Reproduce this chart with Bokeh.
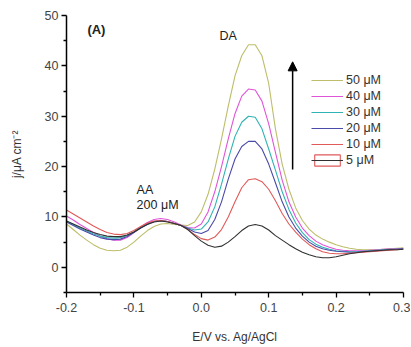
from bokeh.plotting import figure
from bokeh.models import (FixedTicker, PrintfTickFormatter, Legend, LegendItem,
                          Arrow, NormalHead, ColumnDataSource)
from bokeh.core.properties import value
from bokeh.embed import file_html
from bokeh.resources import INLINE

# Potential (V vs. Ag/AgCl)
E = [-0.20, -0.19, -0.18, -0.17, -0.16, -0.15, -0.14, -0.13, -0.12, -0.11,
     -0.10, -0.09, -0.08, -0.07, -0.06, -0.05, -0.04, -0.03, -0.02, -0.01,
     0.00, 0.01, 0.02, 0.03, 0.04, 0.05, 0.06, 0.07, 0.08, 0.09,
     0.10, 0.11, 0.12, 0.13, 0.14, 0.15, 0.16, 0.17, 0.18, 0.19,
     0.20, 0.21, 0.22, 0.23, 0.24, 0.25, 0.26, 0.27, 0.28, 0.29, 0.30]

j_5 = [9.2, 8.6, 8.0, 7.4, 6.9, 6.5, 6.2, 6.1, 6.1, 6.4,
       7.0, 7.8, 8.5, 9.0, 9.2, 9.0, 8.7, 8.3, 7.5, 6.3,
       5.2, 4.4, 4.0, 4.2, 5.0, 6.1, 7.3, 8.2, 8.5, 8.2,
       7.4, 6.3, 5.4, 4.5, 3.7, 3.0, 2.5, 2.1, 1.9, 1.9,
       2.1, 2.4, 2.7, 2.9, 3.1, 3.2, 3.3, 3.4, 3.5, 3.5, 3.6]
j_10 = [11.4, 10.6, 9.8, 9.0, 8.2, 7.5, 6.9, 6.6, 6.5, 6.7,
        7.3, 8.1, 8.8, 9.2, 9.3, 9.1, 8.7, 8.3, 7.5, 6.5,
        5.7, 5.4, 6.0, 7.5, 10.0, 13.0, 15.8, 17.4, 17.6, 17.0,
        15.5, 13.2, 10.7, 8.6, 7.0, 5.6, 4.5, 3.7, 3.1, 2.8,
        2.7, 2.7, 2.8, 2.9, 3.0, 3.1, 3.2, 3.3, 3.4, 3.5, 3.6]
j_20 = [9.0, 8.3, 7.6, 7.0, 6.4, 5.9, 5.6, 5.5, 5.6, 6.1,
        6.9, 7.8, 8.6, 9.1, 9.3, 9.1, 8.7, 8.3, 7.7, 7.0,
        6.7, 7.3, 9.5, 13.0, 17.5, 21.5, 24.0, 25.0, 25.0, 23.5,
        20.5, 16.8, 13.0, 10.0, 7.8, 6.2, 5.0, 4.2, 3.7, 3.4,
        3.2, 3.1, 3.0, 3.0, 3.1, 3.2, 3.3, 3.4, 3.5, 3.6, 3.7]
j_30 = [9.2, 8.5, 7.8, 7.2, 6.6, 6.2, 5.9, 5.8, 5.9, 6.3,
        7.0, 7.9, 8.6, 9.1, 9.3, 9.1, 8.7, 8.3, 7.8, 7.4,
        7.6, 9.0, 12.0, 16.5, 21.5, 26.0, 28.8, 30.0, 29.8, 27.5,
        23.5, 19.3, 15.0, 11.5, 8.8, 6.9, 5.5, 4.6, 4.0, 3.6,
        3.3, 3.2, 3.1, 3.1, 3.2, 3.3, 3.4, 3.5, 3.6, 3.6, 3.7]
j_40 = [10.2, 9.4, 8.5, 7.7, 6.9, 6.2, 5.7, 5.4, 5.4, 5.9,
        6.9, 8.0, 8.9, 9.5, 9.7, 9.5, 9.0, 8.4, 7.9, 7.8,
        8.6, 11.0, 15.0, 20.0, 25.5, 30.5, 34.0, 35.4, 35.2, 33.0,
        28.5, 22.8, 17.3, 13.0, 10.0, 7.8, 6.3, 5.2, 4.5, 4.0,
        3.6, 3.4, 3.3, 3.3, 3.3, 3.4, 3.5, 3.6, 3.7, 3.7, 3.8]
j_50 = [8.6, 7.5, 6.4, 5.4, 4.5, 3.8, 3.4, 3.3, 3.4, 4.0,
        5.0, 6.2, 7.3, 8.1, 8.6, 8.7, 8.5, 8.4, 8.3, 9.0,
        11.0, 14.5, 19.5, 25.5, 32.0, 38.0, 42.0, 44.2, 44.2, 42.0,
        36.5, 27.5, 20.5, 15.5, 11.8, 9.3, 7.6, 6.4, 5.6, 5.0,
        4.5, 4.1, 3.8, 3.6, 3.5, 3.5, 3.5, 3.6, 3.7, 3.8, 3.9]

labels = ["50 \u03bcM", "40 \u03bcM", "30 \u03bcM", "20 \u03bcM", "10 \u03bcM", "5 \u03bcM"]
series = [j_50, j_40, j_30, j_20, j_10, j_5]
colors = ["#bdbd6a", "#e055d8", "#2fb3b3", "#4a4aa8", "#e05a5a", "#303030"]

x_ticks = [-0.2, -0.1, 0.0, 0.1, 0.2, 0.3]
x_minor = [-0.15, -0.05, 0.05, 0.15, 0.25]
y_ticks = [0, 10, 20, 30, 40, 50]
y_minor = [-5, 5, 15, 25, 35, 45]

FONT = "Liberation Sans"
TXT = "#333333"

p = figure(width=410, height=346, output_backend="svg", toolbar_location=None,
           x_range=(-0.2, 0.3), y_range=(-5, 50),
           min_border_left=66, min_border_right=7, min_border_top=15, min_border_bottom=51)
p.outline_line_color = None
p.grid.visible = False
p.background_fill_color = "white"
p.border_fill_color = "white"

renderers = []
for ys, c in zip(series, colors):
    r = p.line(E, ys, line_color=c, line_width=1.1)
    renderers.append(r)

# legend box glyph for the 5 uM entry (placed outside the visible range)
box_src = ColumnDataSource(dict(x=[1.0], y=[100.0]))
box = p.rect(x="x", y="y", width=0.01, height=1, source=box_src,
             fill_alpha=0, line_color="#e05a5a", line_width=1.1)

items = []
for lab, r in zip(labels, renderers):
    if lab.startswith("5 "):
        items.append(LegendItem(label=lab, renderers=[box, r]))
    else:
        items.append(LegendItem(label=lab, renderers=[r]))
legend = Legend(items=items, location=(245, 125), glyph_width=32, glyph_height=14,
                label_standoff=3, spacing=2, padding=0, margin=0,
                border_line_color=None, background_fill_alpha=0,
                label_text_font=FONT, label_text_font_size="12.5px",
                label_text_color=TXT, label_height=14)
p.add_layout(legend)

# axes
for ax in (p.xaxis[0], p.yaxis[0]):
    ax.axis_line_color = "black"
    ax.axis_line_width = 1.5
    ax.major_tick_line_color = "black"
    ax.minor_tick_line_color = "black"
    ax.major_tick_line_width = 1.3
    ax.minor_tick_line_width = 1.3
    ax.major_tick_out = 5
    ax.major_tick_in = 0
    ax.minor_tick_out = 3
    ax.minor_tick_in = 0
    ax.major_label_text_font = FONT
    ax.major_label_text_font_size = "12.5px"
    ax.major_label_text_color = "#444444"
    ax.axis_label_text_font = FONT
    ax.axis_label_text_font_size = "12px"
    ax.axis_label_text_font_style = "normal"
    ax.axis_label_text_color = TXT

p.xaxis.ticker = FixedTicker(ticks=x_ticks, minor_ticks=x_minor)
p.yaxis.ticker = FixedTicker(ticks=y_ticks, minor_ticks=y_minor)
p.xaxis.formatter = PrintfTickFormatter(format="%.1f")
p.yaxis.formatter = PrintfTickFormatter(format="%d")
p.xaxis.axis_label = "E/V vs. Ag/AgCl"
p.yaxis.axis_label = "j/\u03bcA cm\u207b\u00b2"
p.xaxis.major_label_standoff = 5
p.yaxis.major_label_standoff = 3
p.xaxis.axis_label_standoff = 15
p.yaxis.axis_label_standoff = 18

# annotations
ann_x = [-0.169, 0.027, -0.096, -0.096]
ann_y = [47.2, 45.9, 15.4, 12.4]
ann_t = ["(A)", "DA", "AA", "200 \u03bcM"]
p.text(x=ann_x[:1], y=ann_y[:1], text=ann_t[:1], text_font=value(FONT),
       text_font_size="13px", text_font_style="bold", text_color="#222222",
       text_baseline="middle", text_align="left")
p.text(x=ann_x[1:], y=ann_y[1:], text=ann_t[1:], text_font=value(FONT),
       text_font_size="12.5px", text_color="#222222",
       text_baseline="middle", text_align="left")

arrow_x = 0.1355
p.add_layout(Arrow(end=NormalHead(size=9, fill_color="black", line_color="black"),
                   x_start=arrow_x, y_start=19.4, x_end=arrow_x, y_end=40.8,
                   line_color="black", line_width=1.5))

open("out.html", "w").write(file_html(p, INLINE))
